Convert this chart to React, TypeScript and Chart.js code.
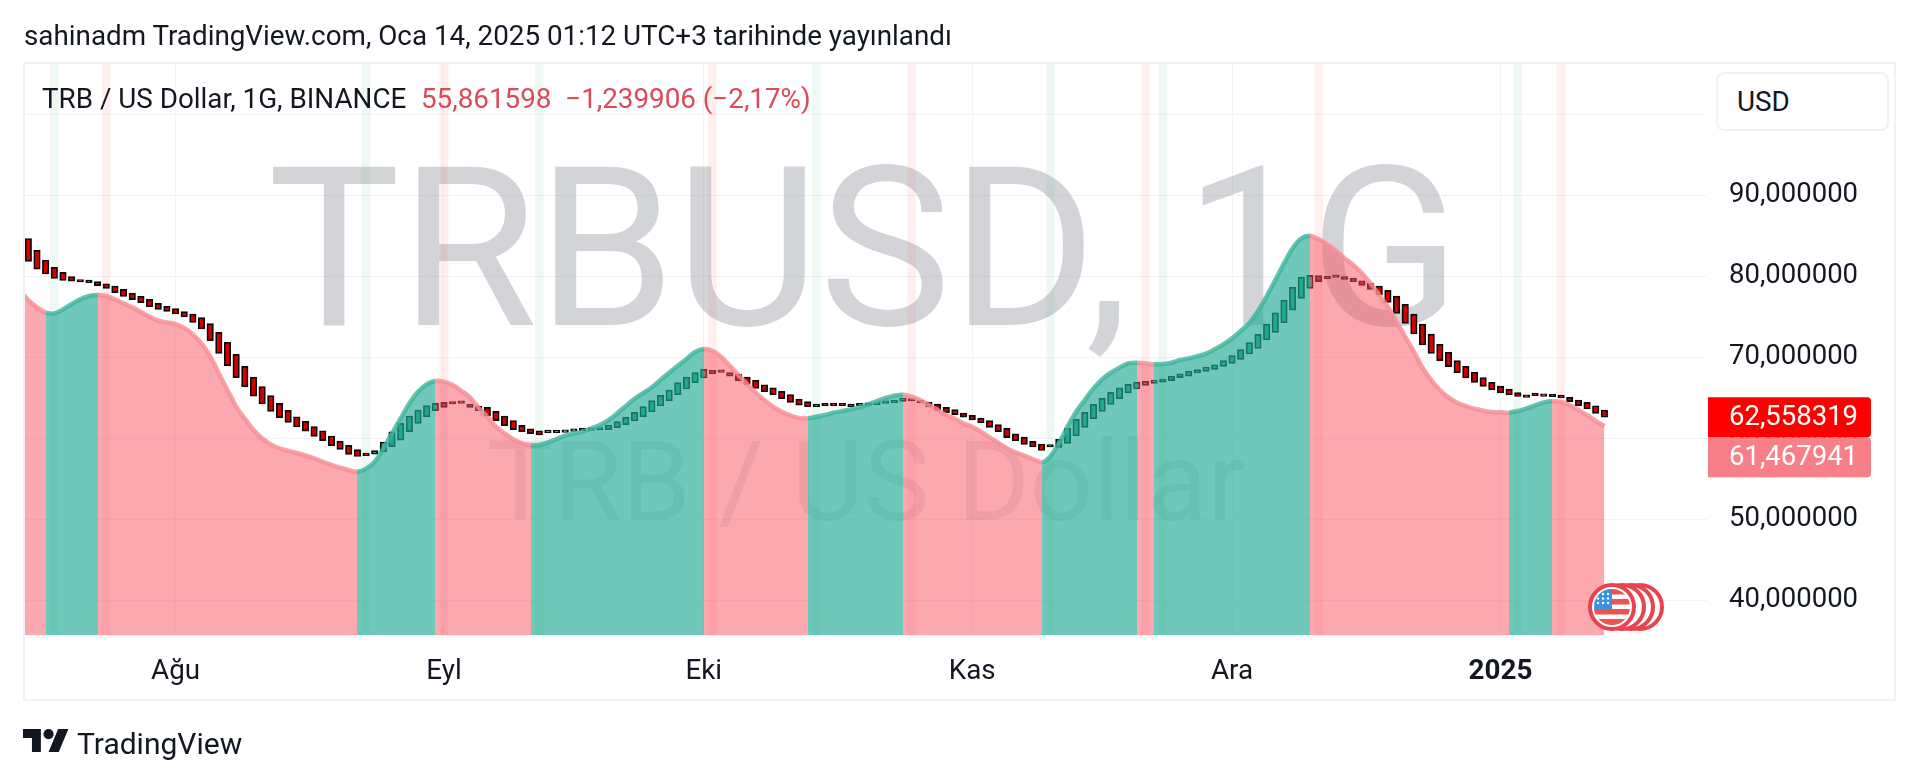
import React, { useEffect, useRef } from "react";
import { Chart, registerables } from "chart.js";

Chart.register(...registerables);

const candleOpen = [84.61,83.21,81.98,81.07,80.45,79.92,79.51,79.47,79.30,79.05,78.77,78.35,77.90,77.49,77.12,76.63,76.26,75.97,75.60,75.31,74.86,74.12,73.05,71.81,70.33,68.85,67.53,66.34,65.23,64.28,63.42,62.63,62.06,61.40,60.90,60.25,59.63,59.10,58.56,58.11,
58.02,58.27,58.93,59.75,60.78,61.81,62.63,63.38,
64.40,64.40,64.40,64.20,63.95,63.79,63.29,62.72,62.14,61.56,61.15,60.90,
60.66,60.66,60.70,60.82,60.90,60.95,60.99,61.03,61.28,61.65,62.10,62.63,63.21,63.95,64.61,65.35,66.05,66.83,67.41,
68.35,68.19,68.07,67.86,67.53,67.12,66.58,66.21,65.76,65.35,64.82,64.49,64.20,64.12,64.12,64.12,64.07,
63.99,64.03,64.12,64.28,64.36,64.53,
64.82,64.65,64.45,64.20,63.79,63.50,63.09,62.80,62.47,62.14,61.65,61.19,60.53,60.12,59.59,59.26,59.01,
58.85,59.34,60.25,61.32,62.39,63.29,64.16,64.86,65.56,66.05,66.50,66.75,66.91,67.08,67.45,67.65,68.03,68.23,68.48,68.85,69.22,69.71,70.37,71.07,72.10,73.05,74.24,75.80,77.24,78.48,
80.04,79.96,79.96,79.92,79.71,79.42,79.10,78.77,78.23,77.53,76.50,75.31,74.07,72.84,71.56,70.58,69.55,68.85,68.15,67.45,66.87,66.42,66.05,65.60,65.31,65.35,65.27,65.23,65.14,65.02,64.69,64.40,63.99,63.46];

const candleClose = [81.81,80.86,80.25,79.71,79.47,79.38,79.26,79.18,78.81,78.48,77.94,77.49,77.08,76.71,76.21,75.88,75.64,75.31,74.94,74.28,73.46,72.02,70.45,68.93,67.45,66.30,65.18,64.20,63.29,62.51,61.93,61.36,60.86,60.21,59.67,59.05,58.60,57.98,57.74,57.82,
58.44,59.51,60.78,61.81,62.72,63.46,64.00,64.28,
63.79,64.20,64.28,63.79,63.38,62.72,62.14,61.52,61.03,60.78,60.53,60.37,
60.74,60.74,60.82,60.95,61.03,61.07,61.15,61.60,62.02,62.55,63.17,63.87,64.61,65.27,65.93,66.83,67.53,68.07,68.48,
67.94,68.11,67.65,67.08,66.63,66.13,65.72,65.35,64.86,64.40,64.07,63.87,63.87,63.99,63.99,63.99,63.87,
64.16,64.20,64.36,64.53,64.65,64.94,
64.57,64.32,63.83,63.42,63.13,62.88,62.59,62.22,61.85,61.32,60.78,60.04,59.67,59.22,58.89,58.48,58.89,
59.84,61.19,62.30,63.17,64.16,64.90,65.64,66.21,66.63,66.91,67.00,67.16,67.28,67.61,67.94,68.27,68.44,68.77,69.05,69.55,70.17,70.91,71.77,72.80,74.07,75.47,77.04,78.60,79.86,80.08,
79.30,79.67,79.84,79.59,79.30,78.85,78.35,77.70,76.75,75.39,74.16,72.84,71.48,70.45,69.55,68.81,68.07,67.41,66.87,66.38,65.93,65.56,65.31,65.14,65.02,65.23,65.14,65.10,64.98,64.49,63.99,63.58,63.05,62.56];

// the first value belongs to the bar just left of the visible range
const trendLine = [78.30,77.04,76.13,75.47,75.39,75.88,76.54,77.12,77.53,77.65,77.53,77.12,76.63,76.13,75.56,74.98,74.49,74.28,74.07,73.58,72.80,71.69,70.12,67.98,65.93,63.87,62.39,60.99,59.96,59.22,58.72,58.44,58.15,57.86,57.49,57.08,56.67,56.34,56.05,55.84,56.21,
57.08,58.72,60.58,62.43,64.28,65.72,66.63,67.04,66.96,66.54,65.84,65.02,63.75,62.63,61.40,60.58,59.84,59.34,59.14,59.14,59.47,59.88,60.29,60.58,60.78,61.19,61.60,62.22,63.05,63.95,64.85,65.55,66.26,67.16,68.07,68.93,69.75,70.62,70.99,70.78,
70.04,68.93,67.78,66.67,65.60,64.69,63.87,63.25,62.80,62.47,62.43,62.63,62.84,63.13,63.33,63.54,63.79,64.16,64.57,64.94,65.23,65.35,65.10,64.69,64.07,63.46,62.84,62.39,61.81,61.40,60.78,60.08,59.42,58.72,58.23,57.82,57.41,57.00,57.70,59.34,
61.40,63.25,64.69,66.13,67.24,68.07,68.68,69.22,69.30,69.22,69.10,69.14,69.30,69.63,69.83,70.12,70.41,70.95,71.56,72.30,73.21,74.20,75.70,77.50,79.50,81.56,83.42,84.65,84.98,84.53,83.91,83.13,82.18,81.36,80.33,79.10,77.65,76.21,74.36,72.51,
70.66,68.68,67.16,65.93,65.02,64.36,63.95,63.62,63.37,63.21,63.17,63.13,63.33,63.66,64.03,64.40,64.53,64.45,64.07,63.46,62.84,62.10,61.47];

const trendFlips = [2, 8, 38, 47, 58, 78, 90, 101, 117, 128, 130, 148, 171, 176];
const greenBands = [3, 39, 59, 91, 118, 131, 172];
const redBands = [9, 48, 79, 102, 129, 149, 177];

const monthTicks = [17, 48, 78, 109, 139, 170];
const monthLabels = ["Ağu", "Eyl", "Eki", "Kas", "Ara", "2025"];
const priceTicks = [40, 50, 60, 70, 80, 90, 100];
const hiddenPriceTicks = [100];

const lastClose = 62.558319;
const lastCloseLabel = "62,558319";
const lastTrendLabel = "61,467941";

const headerText = "sahinadm TradingView.com, Oca 14, 2025 01:12 UTC+3 tarihinde yayınlandı";
const legendName = "TRB / US Dollar, 1G, BINANCE";
const legendValues = "55,861598\u00A0\u00A0−1,239906 (−2,17%)";
const watermarkMain = "TRBUSD, 1G";
const watermarkSub = "TRB / US Dollar";

const FONT = "Roboto, sans-serif";
const Y_MIN = 35.62;
const Y_MAX = 106.3;

const isGreen = (i: number) => {
  let g = false;
  for (const f of trendFlips) if (i >= f) g = !g;
  return g;
};

const overlayPlugin = {
  id: "overlay",
  afterDatasetUpdate(chart: any, args: any) {
    if (args.index !== 0) return;
    // pixel-align the colour changes so that the two fills share a crisp edge
    const pts = chart.getDatasetMeta(0).data;
    for (const f of trendFlips) {
      const p = pts[f + 1];
      if (p) p.x = Math.round(p.x);
    }
  },
  beforeDatasetsDraw(chart: any) {
    const { ctx, chartArea: a } = chart;
    ctx.save();
    ctx.beginPath();
    ctx.rect(a.left, a.top, a.right - a.left, a.bottom - a.top);
    ctx.clip();
    ctx.textAlign = "center";
    ctx.textBaseline = "alphabetic";
    ctx.fillStyle = "rgba(118,122,134,0.32)";
    ctx.font = `400 222px ${FONT}`;
    ctx.fillText(watermarkMain, 864, 325);
    ctx.fillStyle = "rgba(118,122,134,0.16)";
    ctx.font = `400 111px ${FONT}`;
    ctx.fillText(watermarkSub, 866, 520);
    ctx.restore();
  },
  afterDraw(chart: any) {
    const { ctx, scales } = chart;
    const y = scales.y;
    const left = 1708;
    const w = 163;
    const h = 40;
    const y1 = y.getPixelForValue(lastClose) - h / 2;
    const y2 = y1 + h;
    const tag = (top: number, color: string, text: string) => {
      ctx.fillStyle = color;
      ctx.beginPath();
      ctx.roundRect(left, top, w, h, [0, 4, 4, 0]);
      ctx.fill();
      ctx.fillStyle = "#ffffff";
      ctx.font = `400 27.5px ${FONT}`;
      ctx.textAlign = "left";
      ctx.textBaseline = "middle";
      ctx.fillText(text, 1729, top + h / 2 + 1);
    };
    ctx.save();
    tag(y2, "#f78088", lastTrendLabel);
    tag(y1, "#ff0000", lastCloseLabel);
    ctx.restore();
  },
};

const abs = (o: React.CSSProperties): React.CSSProperties => ({ position: "absolute", whiteSpace: "nowrap", fontFamily: FONT, ...o });

function FlagStack() {
  const stripes = [-18, -8, 2, 12];
  return (
    <svg width="84" height="56" viewBox="0 0 84 56" style={{ position: "absolute", left: 1585, top: 579 }}>
      <defs>
        <clipPath id="flagClip"><circle cx="27" cy="28" r="18" /></clipPath>
      </defs>
      {[55, 46, 37].map((cx) => (
        <circle key={cx} cx={cx} cy="28" r="22" fill="#fff" stroke="#e8434f" strokeWidth="4" />
      ))}
      <circle cx="27" cy="28" r="22" fill="#fff" stroke="#e8434f" strokeWidth="4" />
      <g clipPath="url(#flagClip)">
        <rect x="9" y="10" width="36" height="36" fill="#fff" />
        {stripes.map((s, i) => (
          <rect key={i} x="9" y={28 + s} width="36" height={i === 3 ? 9 : 5.5} fill="#ea5451" />
        ))}
        <rect x="9" y="10" width="18" height="20" fill="#3a93e0" />
        {[13, 17.5, 22].flatMap((yy) =>
          [13, 18, 23].map((xx) => <circle key={`${xx}-${yy}`} cx={xx} cy={yy + 2} r="1.2" fill="#fff" />)
        )}
      </g>
    </svg>
  );
}

export default function App() {
  const ref = useRef<HTMLCanvasElement>(null);
  useEffect(() => {
    const bandGreen = greenBands.map((i) => ({ x: i, y: [Y_MIN, Y_MAX] }));
    const bandRed = redBands.map((i) => ({ x: i, y: [Y_MIN, Y_MAX] }));
    const candles = candleOpen.map((o, i) => ({ x: i, y: [o, candleClose[i]] }));
    const greenLine = "rgba(62,180,158,0.8)";
    const redLine = "rgba(247,140,148,0.8)";
    const greenFill = "rgba(34,171,148,0.65)";
    const redFill = "rgba(247,82,95,0.5)";
    const chart = new Chart(ref.current as HTMLCanvasElement, {
      type: "bar",
      data: {
        datasets: [
          {
            type: "line",
            data: trendLine.map((v, i) => ({ x: i - 1, y: v })),
            order: 1,
            borderWidth: 4.5,
            pointRadius: 0,
            tension: 0.3,
            fill: "origin",
            borderColor: redLine,
            backgroundColor: redFill,
            segment: {
              borderColor: (c: any) => (isGreen(c.p0DataIndex - 1) ? greenLine : redLine),
              backgroundColor: (c: any) => (isGreen(c.p0DataIndex - 1) ? greenFill : redFill),
            },
          },
          {
            data: candles,
            order: 2,
            grouped: false,
            barThickness: 6.5,
            borderWidth: 1.7,
            minBarLength: 2.5,
            borderSkipped: false,
            borderColor: "#0a0a0a",
            backgroundColor: candleOpen.map((o, i) => (candleClose[i] >= o ? "#1fa48d" : "#d40000")),
          },
          { data: bandGreen, order: 3, grouped: false, barThickness: 8, backgroundColor: "rgba(76,175,120,0.09)", borderWidth: 0 },
          { data: bandRed, order: 3, grouped: false, barThickness: 8, backgroundColor: "rgba(255,82,82,0.09)", borderWidth: 0 },
        ] as any,
      },
      options: {
        animation: false,
        responsive: false,
        devicePixelRatio: 1,
        layout: { padding: { left: 24, top: 63, right: 24, bottom: 81 } },
        plugins: { legend: { display: false }, tooltip: { enabled: false } },
        scales: {
          x: {
            type: "linear",
            min: -0.5,
            max: 193.85,
            offset: false,
            afterFit: (s: any) => { s.height = 65.5; },
            afterBuildTicks: (s: any) => { s.ticks = monthTicks.map((v) => ({ value: v })); },
            grid: { color: "#f2f3f5", drawTicks: false, offset: false },
            border: { display: false },
            ticks: {
              autoSkip: false,
              maxRotation: 0,
              padding: 20,
              color: "#131722",
              font: (c: any) => ({ family: FONT, size: 27.8, weight: c.tick && monthLabels[monthTicks.indexOf(c.tick.value)] === "2025" ? "bold" : "normal" }),
              callback: (v: any) => monthLabels[monthTicks.indexOf(v)] ?? "",
            },
          },
          y: {
            type: "linear",
            position: "right",
            min: Y_MIN,
            max: Y_MAX,
            afterFit: (s: any) => { s.width = 189; },
            afterBuildTicks: (s: any) => { s.ticks = priceTicks.map((v) => ({ value: v })); },
            grid: { color: "#f2f3f5", drawTicks: false },
            border: { display: false },
            ticks: {
              autoSkip: false,
              padding: 22,
              color: "#131722",
              font: { family: FONT, size: 27.5 },
              callback: (v: any) => (hiddenPriceTicks.includes(v) ? "" : `${v},000000`),
            },
          },
        },
      } as any,
      plugins: [overlayPlugin],
    });
    return () => chart.destroy();
  }, []);

  return (
    <div style={{ position: "fixed", left: 0, top: 0, width: 1920, height: 782, background: "#fff", overflow: "hidden" }}>
      <canvas ref={ref} width={1920} height={782} style={{ position: "absolute", left: 0, top: 0 }} />
      <div style={{ position: "absolute", left: 23, top: 62, width: 1873, height: 639, border: "2px solid #f1f2f4", boxSizing: "border-box", pointerEvents: "none" }} />
      <div style={abs({ left: 24, top: 21, fontSize: 27.8, lineHeight: "30px", color: "#131722" })}>{headerText}</div>
      <div style={abs({ left: 42, top: 84, fontSize: 27.8, lineHeight: "30px", color: "#131722" })}>{legendName}</div>
      <div style={abs({ left: 421, top: 84, fontSize: 27.8, lineHeight: "30px", color: "#dc4a56" })}>{legendValues}</div>
      <div style={abs({ left: 1716, top: 72, width: 173, height: 59, boxSizing: "border-box", border: "2px solid #f1f2f4", borderRadius: 8, background: "#fff", paddingLeft: 19, fontSize: 27.8, lineHeight: "55px", color: "#131722" })}>USD</div>
      <FlagStack />
      <svg width="46" height="23" viewBox="0 4 36 18" style={{ position: "absolute", left: 23, top: 729 }}>
        <path d="M14 22H7V11H0V4h14v18zM28 22h-8l7.5-18h8L28 22z" fill="#131722" />
        <circle cx="20" cy="8" r="4" fill="#131722" />
      </svg>
      <div style={abs({ left: 77, top: 726, fontSize: 30, lineHeight: "36px", color: "#131722" })}>TradingView</div>
    </div>
  );
}
